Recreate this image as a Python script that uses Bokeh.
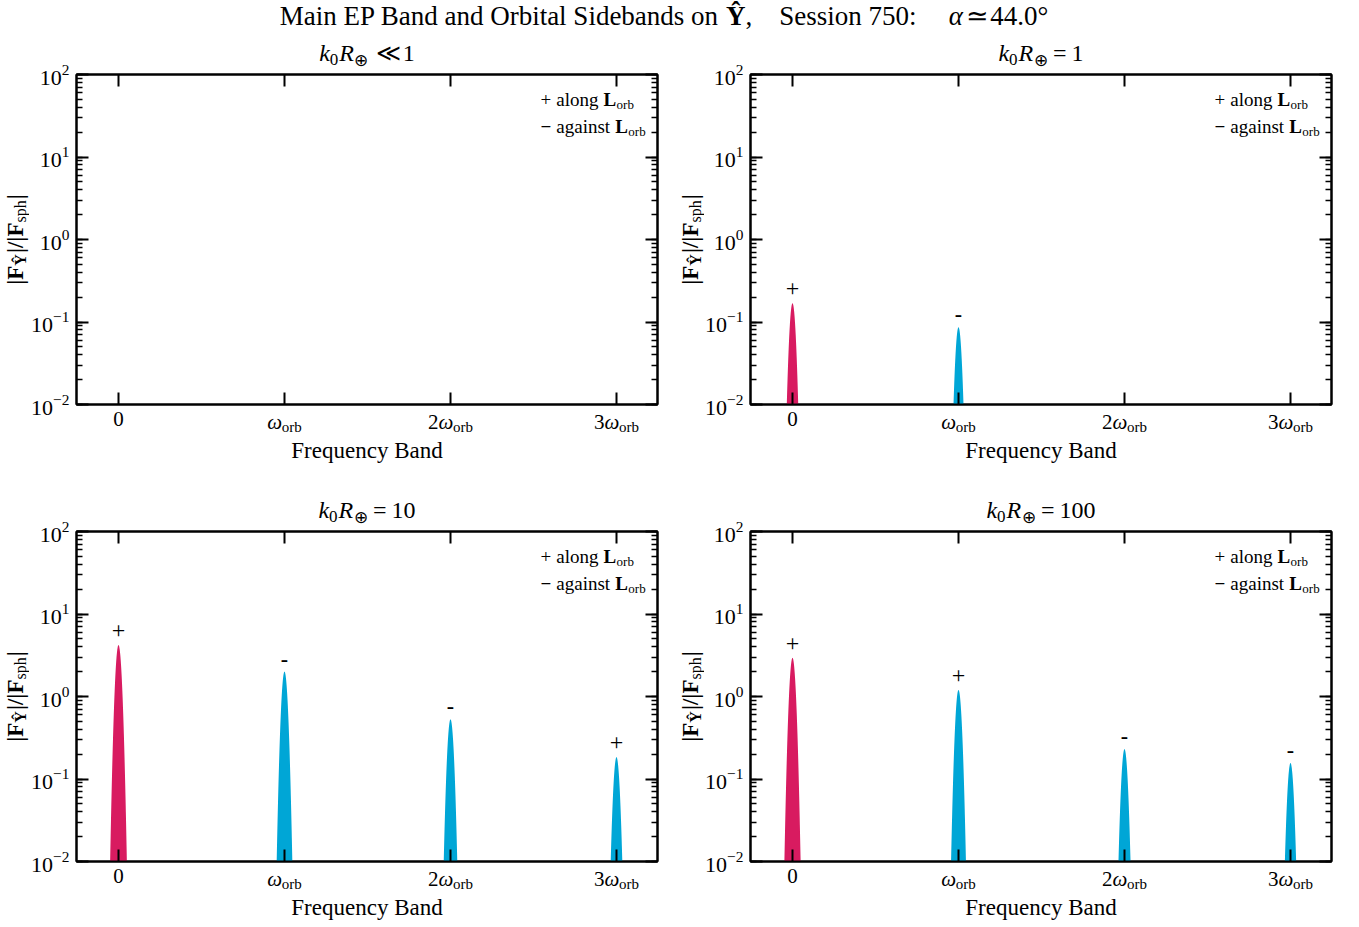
import math
import numpy as np
from bokeh.plotting import figure
from bokeh.models import (Range1d, FixedTicker, LogTicker, LogAxis, LinearAxis,
                          Label, CustomJSTickFormatter, LogTickFormatter)
from bokeh.layouts import column, row
from bokeh.embed import file_html
from bokeh.resources import INLINE

# ---------------- data ----------------
bands = [0, 1, 2, 3]
band_prefix = ["0", "", "2", "3"]
band_has_omega = [False, True, True, True]
band_sub = "orb"
panel_relation = ["≪", "=", "=", "="]
panel_k0R = ["1", "1", "10", "100"]
amp_k_small = [np.nan, np.nan, np.nan, np.nan]
amp_k1 = [0.169, 0.0865, np.nan, np.nan]
amp_k10 = [4.2, 2.0, 0.528, 0.184]
amp_k100 = [2.94, 1.2, 0.23, 0.156]
sign_k_small = ["", "", "", ""]
sign_k1 = ["+", "-", "", ""]
sign_k10 = ["+", "-", "-", "+"]
sign_k100 = ["+", "+", "-", "-"]
y_limits = (1e-2, 1e2)
x_limits = (-0.253, 3.247)
legend_rows = [("+", "along"), ("−", "against")]
x_axis_title = "Frequency Band"
session = "Session 750:"
alpha_deg = "44.0°"

# ---------------- style ----------------
FONT = "Liberation Serif"
RED = "#D81B60"
CYAN = "#00A6D6"
SIGMA = 0.0145
BASE_FIX = 0.34  # empirical alphabetic-baseline correction (em)

REG = {' ': .25, '+': .564, '-': .333, '−': .564, '.': .25, ',': .25, ':': .278,
       '|': .2, '/': .278, '=': .564, '°': .4, '≪': .838, '≃': .838, '⊕': .838,
       'ω': .686, 'α': .6,
       'a': .444, 'b': .5, 'c': .444, 'd': .5, 'e': .444, 'f': .333, 'g': .5, 'h': .5,
       'i': .278, 'j': .278, 'k': .5, 'l': .278, 'm': .778, 'n': .5, 'o': .5, 'p': .5,
       'q': .5, 'r': .333, 's': .389, 't': .278, 'u': .5, 'v': .5, 'w': .722, 'x': .5,
       'y': .5, 'z': .444,
       'A': .722, 'B': .667, 'C': .667, 'D': .722, 'E': .611, 'F': .556, 'G': .722,
       'H': .722, 'I': .333, 'L': .611, 'M': .889, 'O': .722, 'P': .556, 'R': .667,
       'S': .556, 'Y': .722}
ITA = {'k': .444, 'R': .611, 'ω': .667, 'α': .55}
BLD = {'L': .667, 'F': .611, 'Ŷ': .722, 'Y': .722, '|': .22, '/': .278, '-': .333, '−': .57}


def cw(ch, style):
    if style == "italic" and ch in ITA:
        return ITA[ch]
    if style == "bold" and ch in BLD:
        return BLD[ch]
    return REG.get(ch, 0.5)


def tw(text, size, style):
    return sum(cw(c, style) for c in text) * size


def place(p, runs, x, y, xo=0.0, yo=0.0, anchor="center", vertical=False):
    """runs: (text, size, style, baseline_shift, pad_before)"""
    widths = [r[4] + tw(r[0], r[1], r[2]) for r in runs]
    total = sum(widths)
    pos = {"center": -total / 2, "left": 0.0, "right": -total}[anchor]
    for (text, size, style, dy, pad), w in zip(runs, widths):
        pos += pad
        shift = dy + BASE_FIX * size
        kw = dict(x=x, y=y, text=text, text_font=FONT, text_font_size=f"{size}px",
                  text_font_style=style, text_color="black", text_align="left",
                  text_baseline="alphabetic")
        if vertical:
            lab = Label(x_offset=xo - shift, y_offset=yo + pos, angle=math.pi / 2, **kw)
        else:
            lab = Label(x_offset=xo + pos, y_offset=yo + shift, **kw)
        p.add_layout(lab)
        pos += w - pad


def style_axis(ax, minor=True):
    ax.axis_line_width = 2
    ax.axis_line_color = "black"
    ax.major_tick_in = 12
    ax.major_tick_out = 0
    ax.major_tick_line_width = 2
    ax.major_tick_line_color = "black"
    if minor:
        ax.minor_tick_in = 6
        ax.minor_tick_out = 0
        ax.minor_tick_line_width = 1.5
        ax.minor_tick_line_color = "black"
    else:
        ax.minor_tick_in = 0
        ax.minor_tick_out = 0


def blank(ax):
    ax.formatter = CustomJSTickFormatter(code="return ''")
    ax.major_label_text_font_size = "0px"
    ax.major_label_standoff = 0


def strip(width, height, x_range=None, bl=0, br=0):
    f = figure(width=width, height=height,
               x_range=x_range if x_range is not None else Range1d(0, width),
               y_range=Range1d(0, height), output_backend="svg", toolbar_location=None,
               x_axis_location=None, y_axis_location=None,
               min_border_left=bl, min_border_right=br, min_border_top=0, min_border_bottom=0)
    f.grid.visible = False
    f.outline_line_color = None
    f.border_fill_color = "white"
    f.background_fill_color = "white"
    return f


FRAME_H = 330
PB = 2  # panel border top/bottom/left


def cell(ys_w, ax_w, pw, br, ylab_x, h_title, h_xstrip, amps, signs, rel, val):
    xr = Range1d(*x_limits)
    x0, x1 = x_limits
    xc = (x0 + x1) / 2
    ylo, yhi = y_limits
    ph = PB + FRAME_H + PB
    row_h = h_title + ph + h_xstrip
    f_top = h_title + PB
    f_bot = h_xstrip + PB

    # ---- main panel ----
    p = figure(width=pw, height=ph, x_range=xr, y_range=Range1d(*y_limits),
               y_axis_type="log", output_backend="svg", toolbar_location=None,
               min_border_left=PB, min_border_right=br,
               min_border_top=PB, min_border_bottom=PB)
    p.grid.visible = False
    p.outline_line_color = "black"
    p.outline_line_width = 2
    p.background_fill_color = "white"
    p.border_fill_color = "white"

    for b, a in zip(bands, amps):
        if not np.isfinite(a):
            continue
        xs = np.linspace(b - 0.09, b + 0.09, 241)
        ys = np.maximum(a * np.exp(-0.5 * ((xs - b) / SIGMA) ** 2), 1e-4)
        p.varea(x=xs, y1=np.full_like(xs, 1e-4), y2=ys,
                fill_color=RED if b == 0 else CYAN)

    for b, a, s in zip(bands, amps, signs):
        if not s or not np.isfinite(a):
            continue
        p.add_layout(Label(x=b, y=a, text=s, y_offset=14.5 if s == "+" else 13,
                           text_font=FONT,
                           text_font_size="24px" if s == "+" else "22px",
                           text_font_style="normal" if s == "+" else "bold",
                           text_align="center", text_baseline="middle",
                           text_color="black"))

    xa = p.xaxis[0]
    xa.ticker = FixedTicker(ticks=bands)
    blank(xa)
    style_axis(xa, minor=False)
    top = LinearAxis(ticker=FixedTicker(ticks=bands))
    blank(top)
    style_axis(top, minor=False)
    p.add_layout(top, "above")

    ya = p.yaxis[0]
    ya.ticker = LogTicker(num_minor_ticks=10)
    blank(ya)
    style_axis(ya)
    right = LogAxis(ticker=LogTicker(num_minor_ticks=10))
    blank(right)
    style_axis(right)
    p.add_layout(right, "right")

    # legend (inside frame)
    L, ls_ = 19, 13
    for i, (sym, word) in enumerate(legend_rows):
        place(p, [(sym, L, "normal" if sym == "+" else "bold", 0, 0),
                  (word, L, "normal", 0, 5), ("L", L, "bold", 0, 5),
                  (band_sub, ls_, "normal", -3, 0.5)],
              x1, yhi, xo=-117, yo=-31 - 27 * i, anchor="left")

    # ---- y tick label figure (library log axis) ----
    af = figure(width=ax_w, height=row_h, x_range=Range1d(0, 1),
                y_range=Range1d(*y_limits), y_axis_type="log", x_axis_location=None,
                output_backend="svg", toolbar_location=None,
                min_border_left=ax_w - 3 - PB, min_border_right=PB,
                min_border_top=f_top, min_border_bottom=f_bot)
    af.grid.visible = False
    af.outline_line_color = None
    af.border_fill_color = "white"
    af.background_fill_color = "white"
    aya = af.yaxis[0]
    aya.ticker = LogTicker(num_minor_ticks=10)
    aya.formatter = LogTickFormatter()
    aya.axis_line_color = None
    aya.major_tick_line_color = None
    aya.minor_tick_line_color = None
    aya.major_tick_in = 0
    aya.major_tick_out = 0
    aya.minor_tick_in = 0
    aya.minor_tick_out = 0
    aya.major_label_text_font = FONT
    aya.major_label_text_font_size = "22px"
    aya.major_label_text_color = "black"
    aya.major_label_standoff = 3

    # ---- title strip ----
    ts = strip(pw, h_title, xr, PB, br)
    S, s = 24, 17
    gap = 7 if rel == "≪" else 5
    place(ts, [("k", S, "italic", 0, 0), ("0", s, "normal", -4, 0),
               ("R", S, "italic", 0, 1), ("⊕", s, "normal", -5, 0.5),
               (rel, S, "normal", 0, gap), (val, S, "normal", 0, gap)],
          xc, 13 - PB)

    # ---- y-label strip (same height as panel) ----
    ysb = strip(ys_w, ph)
    Y, ys_ = 23, 16
    place(ysb, [("|F", Y, "bold", 0, 0), ("Ŷ", ys_, "bold", -3, 0),
                ("|/|F", Y, "bold", 0, 1), ("sph", ys_, "normal", -3, 0),
                ("|", Y, "bold", 0, 1)],
          ylab_x, PB + FRAME_H / 2, vertical=True)
    ycol = column(strip(ys_w, h_title), ysb, strip(ys_w, h_xstrip))

    # ---- x tick label strip ----
    xsb = strip(pw, h_xstrip, xr, PB, br)
    X, xs_ = 21, 15
    for b, pre, om in zip(bands, band_prefix, band_has_omega):
        if om:
            runs = []
            if pre:
                runs.append((pre, X, "normal", 0, 0))
            runs += [("ω", X, "italic", 0, 0), (band_sub, xs_, "normal", -2.5, 0.5)]
            place(xsb, runs, b, h_xstrip - (25 - PB))
        else:
            place(xsb, [(pre, X, "normal", 0, 0)], b, h_xstrip - (22 - PB))
    place(xsb, [(x_axis_title, 23, "normal", 0, 0)], xc, h_xstrip - (54 - PB))

    return row(ycol, af, column(ts, p, xsb))


# header with main title
hdr = strip(1359, 38)
T = 27
place(hdr, [("Main EP Band and Orbital Sidebands on", T, "normal", 0, 0),
            ("Ŷ", T, "bold", 0, 0.25 * T), (",", T, "normal", 0, 0),
            (session, T, "normal", 0, 1.0 * T),
            ("α", T, "italic", 0, 1.2 * T), ("≃", T, "normal", 0, 2),
            (alpha_deg, T, "normal", 0, 2)],
      663.5, 38 - 25)

# left cells: x 0..677 ; right cells: x 677..1359
c1 = cell(29, 45, 603, 20, 22.5, 34, 81, amp_k_small, sign_k_small, panel_relation[0], panel_k0R[0])
c2 = cell(27, 44, 611, 28, 20.5, 34, 81, amp_k1, sign_k1, panel_relation[1], panel_k0R[1])
c3 = cell(29, 45, 603, 20, 22.5, 42, 64, amp_k10, sign_k10, panel_relation[2], panel_k0R[2])
c4 = cell(27, 44, 611, 28, 20.5, 42, 64, amp_k100, sign_k100, panel_relation[3], panel_k0R[3])

layout = column(hdr, row(c1, c2), row(c3, c4))
open("out.html", "w").write(file_html(layout, INLINE))
